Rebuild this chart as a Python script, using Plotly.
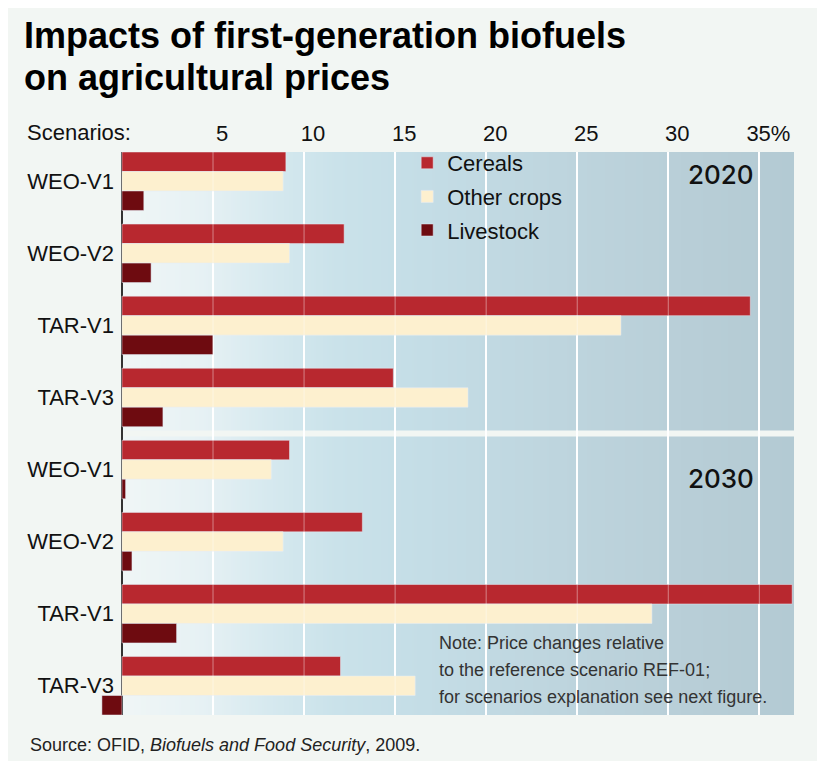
import base64
import struct
import zlib

import plotly.graph_objects as go

# scenario labels and years
scenarios = ["WEO-V1", "WEO-V2", "TAR-V1", "TAR-V3"]
years = ["2020", "2030"]

# price change, % (2020 block first, then 2030 block)
cereals = [9.0, 12.2, 34.5, 14.9, 9.2, 13.2, 36.8, 12.0]
other_crops = [8.85, 9.2, 27.4, 19.0, 8.2, 8.85, 29.1, 16.1]
livestock = [1.2, 1.6, 5.0, 2.25, 0.2, 0.55, 3.0, -1.1]

tick_vals = [5, 10, 15, 20, 25, 30, 35]
tick_text = ["5", "10", "15", "20", "25", "30", "35%"]

categories = [f"{y} {s}" for y in years for s in scenarios]
cat_labels = [s for y in years for s in scenarios]

PANEL = "#f2f6f3"
FONT = "Liberation Sans, Arial, Helvetica, sans-serif"

# the page puts an 8px body margin round the figure
OFF = 8
W, H = 825 - OFF, 761 - OFF
# plot area in page pixels, used to place the free text
L, R, T, B = 101, 793.6, 152, 715


def fx(px):
    return (px - L) / (R - L)


def fy(py):
    return (B - py) / (B - T)


def gradient_png(stops, width=300):
    # horizontal gradient, 1 pixel high, as a data uri
    row = bytearray([0])
    for i in range(width):
        t = i / (width - 1)
        for (t0, c0), (t1, c1) in zip(stops[:-1], stops[1:]):
            if t0 <= t <= t1:
                k = (t - t0) / (t1 - t0) if t1 > t0 else 0
                row += bytes(int(round(a + (b - a) * k)) for a, b in zip(c0, c1))
                break
    raw = bytes(row)

    def chunk(tag, data):
        c = struct.pack(">I", len(data)) + tag + data
        return c + struct.pack(">I", zlib.crc32(tag + data) & 0xFFFFFFFF)

    png = b"\x89PNG\r\n\x1a\n"
    png += chunk(b"IHDR", struct.pack(">IIBBBBB", width, 1, 8, 2, 0, 0, 0))
    png += chunk(b"IDAT", zlib.compress(raw))
    png += chunk(b"IEND", b"")
    return "data:image/png;base64," + base64.b64encode(png).decode()


bg_stops = [
    (0.0, (240, 246, 246)),
    (0.12, (230, 241, 244)),
    (0.22, (214, 233, 239)),
    (0.32, (202, 226, 234)),
    (0.45, (196, 221, 230)),
    (0.65, (190, 213, 222)),
    (0.85, (184, 206, 215)),
    (1.0, (179, 202, 211)),
]

fig = go.Figure()
fig.add_trace(go.Bar(y=categories, x=cereals, orientation="h", name="Cereals",
                     marker_color="#b8282f", legendgroup="a"))
fig.add_trace(go.Bar(y=categories, x=other_crops, orientation="h", name="Other crops",
                     marker_color="#fdf0cf", legendgroup="b"))
fig.add_trace(go.Bar(y=categories, x=livestock, orientation="h", name="Livestock",
                     marker_color="#6e0b10", legendgroup="c"))

shapes = [
    # band between the 2020 and 2030 blocks
    dict(type="rect", xref="paper", yref="y", x0=fx(122), x1=1, y0=3.46, y1=3.54,
         fillcolor=PANEL, line_width=0, layer="below"),
]
# grid showing faintly through the bars
for v in tick_vals:
    shapes.append(dict(type="line", xref="x", yref="paper", x0=v, x1=v, y0=0, y1=1,
                       line=dict(color="rgba(255,255,255,0.35)", width=1.2), layer="above"))

year_font = dict(family="Inter, Liberation Sans, sans-serif", size=26, color="#111", weight=500)
annotations = [
    dict(text="<b>Impacts of first-generation biofuels</b>", x=fx(22), y=fy(36),
         font=dict(size=36, color="#000")),
    dict(text="<b>on agricultural prices</b>", x=fx(22), y=fy(78),
         font=dict(size=36, color="#000")),
    dict(text="Scenarios:", x=fx(25), y=fy(132), font=dict(size=22, color="#111")),
    dict(text="2020", x=fx(686), y=fy(174), font=year_font),
    dict(text="2030", x=fx(686), y=fy(479), font=year_font),
    dict(text="Note: Price changes relative", x=fx(437), y=fy(643),
         font=dict(size=18, color="#333")),
    dict(text="to the reference scenario REF-01;", x=fx(437), y=fy(670),
         font=dict(size=18, color="#333")),
    dict(text="for scenarios explanation see next figure.", x=fx(437), y=fy(697),
         font=dict(size=18, color="#333")),
    dict(text="Source: OFID, <i>Biofuels and Food Security</i>, 2009.", x=fx(28), y=fy(745),
         font=dict(size=18, color="#222")),
]
for a in annotations:
    a.update(xref="paper", yref="paper", xanchor="left", yanchor="middle", showarrow=False)

fig.update_layout(
    width=W,
    height=H,
    margin=dict(l=L - OFF, r=W - (R - OFF), t=T - OFF, b=H - (B - OFF), pad=0),
    paper_bgcolor=PANEL,
    plot_bgcolor="rgba(0,0,0,0)",
    font=dict(family=FONT, size=22, color="#111"),
    barmode="group",
    bargap=0.189,
    bargroupgap=0,
    showlegend=True,
    legend=dict(x=fx(407), y=fy(142), xanchor="left", yanchor="top",
                bgcolor="rgba(0,0,0,0)", traceorder="grouped", tracegroupgap=2,
                font=dict(size=22, color="#111")),
    images=[dict(source=gradient_png(bg_stops), xref="x", yref="paper", x=0, y=1,
                 sizex=36.9, sizey=1, xanchor="left", yanchor="top",
                 sizing="stretch", layer="below")],
    shapes=shapes,
    annotations=annotations,
)
fig.update_xaxes(
    range=[-1.15, 36.9], side="top", tickvals=tick_vals, ticktext=tick_text,
    showgrid=True, gridcolor="white", gridwidth=1.5,
    zeroline=True, zerolinecolor="#333", zerolinewidth=2,
    ticks="", ticklabelstandoff=6, ticklabelshift=9, tickfont=dict(size=22),
)
fig.update_yaxes(
    categoryorder="array", categoryarray=categories, range=[7.4055, -0.4055],
    tickvals=categories, ticktext=cat_labels, showgrid=False, zeroline=False,
    ticks="", ticklabelstandoff=-14, tickfont=dict(size=22),
)

fig.write_html("out.html")
